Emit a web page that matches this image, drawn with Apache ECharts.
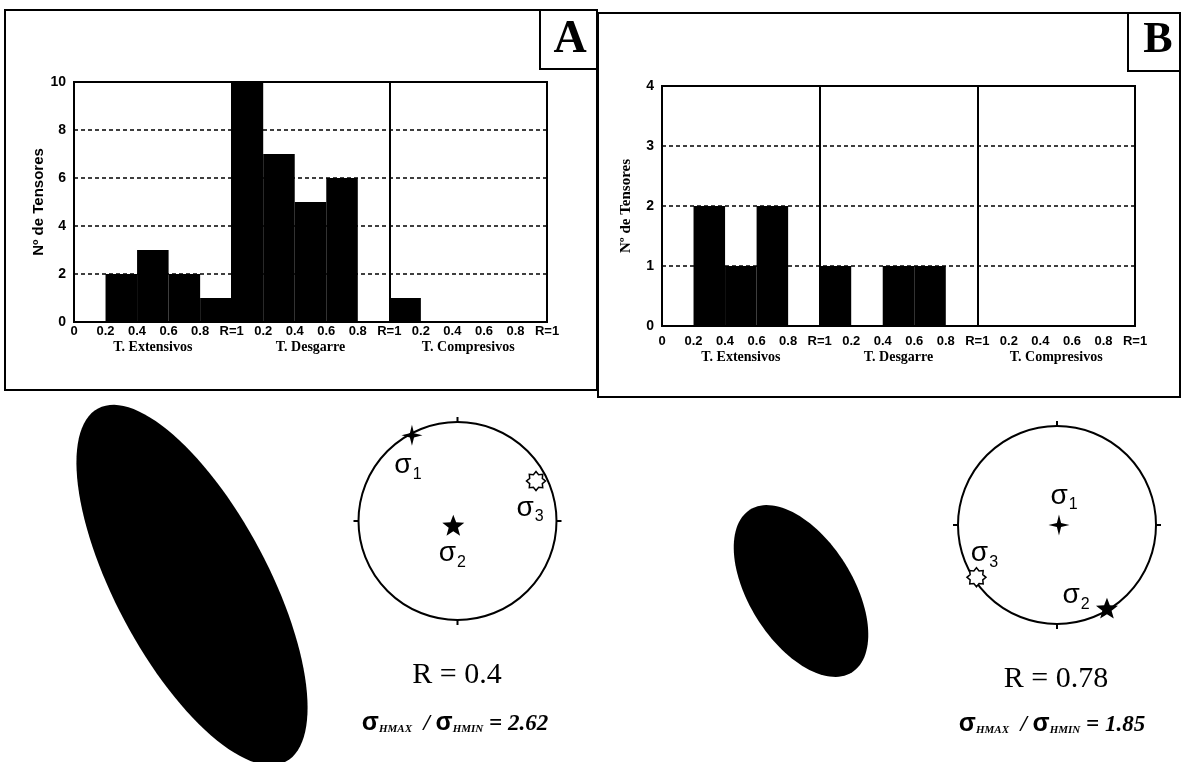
<!DOCTYPE html>
<html>
<head>
<meta charset="utf-8">
<script src="https://cdn.jsdelivr.net/npm/echarts@6/dist/echarts.min.js"></script>
<style>
html, body { margin: 0; padding: 0; background: #fff; }
#fig { width: 1183px; height: 762px; }
</style>
</head>
<body>
<div id="fig"></div>
<script>
// histogramas de R por tipo de tensor (clases de 0.2)
var grupos = ['T. Extensivos', 'T. Desgarre', 'T. Compresivos'];
var anchoClase = 0.2;
var tensoresA = [0, 2, 3, 2, 1, 10, 7, 5, 6, 0, 1, 0, 0, 0, 0];
var tensoresB = [0, 2, 1, 2, 0, 1, 0, 1, 1, 0, 0, 0, 0, 0, 0];

// ejes principales en la falsilla: trend (grados) y distancia al centro (0..1)
var sigmasA = ['1', '2', '3'];
var trendA = [332, 225, 63];
var radioA = [0.98, 0.06, 0.89];
var sigmasB = ['1', '2', '3'];
var trendB = [90, 149, 237];
var radioB = [0.02, 0.98, 0.97];

// elipse de esfuerzos horizontal
var valorR = ['0.4', '0.78'];
var razonSigma = [2.62, 1.85];
var azimutSHmax = [152, 148];
var semiejeMayor = [2.0, 0.96];

var fig = echarts.init(document.getElementById('fig'));

var sans = 'Liberation Sans';
var serif = 'Liberation Serif';

function etiquetaR(v) {
    var n = Math.round(v / anchoClase);
    if (n === 0) return '0';
    var k = n % 5;
    return k === 0 ? 'R=1' : (k * anchoClase).toFixed(1);
}

function datosHist(cuentas) {
    return cuentas.map(function (c, i) {
        return [i * anchoClase, (i + 1) * anchoClase, c];
    });
}

function barra(params, api) {
    var n = api.value(2);
    if (!n) return null;
    var p0 = api.coord([api.value(0), n]);
    var p1 = api.coord([api.value(1), 0]);
    return {
        type: 'rect',
        shape: { x: p0[0], y: p0[1], width: p1[0] - p0[0], height: p1[1] - p0[1] },
        style: { fill: '#000' }
    };
}

function elipse(params, api) {
    var a = api.value(0);
    var b = a / api.value(1);
    var th = api.value(2) * Math.PI / 180;
    var ux = Math.sin(th), uy = Math.cos(th);
    var pts = [];
    for (var k = 0; k < 120; k++) {
        var t = 2 * Math.PI * k / 120;
        var x = a * Math.cos(t) * ux + b * Math.sin(t) * uy;
        var y = a * Math.cos(t) * uy - b * Math.sin(t) * ux;
        pts.push(api.coord([x, y]));
    }
    return { type: 'polygon', shape: { points: pts }, style: { fill: '#000' } };
}

function estrella(puntas, rInt) {
    var d = '';
    for (var k = 0; k < puntas * 2; k++) {
        var r = k % 2 ? rInt : 10;
        var ang = Math.PI * k / puntas - Math.PI / 2;
        d += (k ? 'L' : 'M') + (r * Math.cos(ang)).toFixed(2) + ',' + (r * Math.sin(ang)).toFixed(2);
    }
    return 'path://' + d + 'Z';
}

var simbolos = {
    '1': { symbol: estrella(4, 2.8), size: 21, fill: '#000' },
    '2': { symbol: estrella(5, 4.2), size: 22, fill: '#000' },
    '3': { symbol: estrella(8, 7.2), size: 19, fill: '#fff' }
};

function datosFalsilla(sig, trend, radio, desplaz) {
    return sig.map(function (s, i) {
        var sb = simbolos[s];
        return {
            name: s,
            value: [radio[i], trend[i]],
            symbol: sb.symbol,
            symbolSize: sb.size,
            symbolKeepAspect: true,
            itemStyle: { color: sb.fill, opacity: 1, borderColor: '#000', borderWidth: s === '3' ? 1.5 : 0 },
            label: { offset: desplaz[i] }
        };
    });
}

var richSigma = {
    s: { fontFamily: sans, fontSize: 28, color: '#000', lineHeight: 30, verticalAlign: 'bottom' },
    d: { fontFamily: sans, fontSize: 16, color: '#000', verticalAlign: 'bottom', padding: [0, 0, -3, 1] }
};

function ejeX(grid, margen, margenGrupo) {
    return [{
        gridIndex: grid, type: 'value', min: 0, max: 3, interval: anchoClase,
        axisLine: { lineStyle: { color: '#000', width: 2 } },
        axisTick: { show: false },
        splitLine: { show: false },
        axisLabel: {
            margin: margen, color: '#000', fontFamily: sans, fontWeight: 'bold', fontSize: 13,
            showMinLabel: true, showMaxLabel: true, formatter: etiquetaR
        }
    }, {
        gridIndex: grid, type: 'category', position: 'bottom', data: grupos,
        axisLine: { show: false }, axisTick: { show: false }, splitLine: { show: false },
        axisLabel: { margin: margenGrupo, color: '#000', fontFamily: serif, fontWeight: 'bold', fontSize: 14 }
    }];
}

function ejeY(grid, max, intervalo, fuenteNombre) {
    return {
        gridIndex: grid, type: 'value', min: 0, max: max, interval: intervalo,
        name: 'Nº de Tensores', nameLocation: 'middle', nameGap: 28,
        nameTextStyle: { color: '#000', fontFamily: fuenteNombre, fontWeight: 'bold', fontSize: 15 },
        axisLine: { show: true, lineStyle: { color: '#000', width: 2 } },
        axisTick: { show: false },
        axisLabel: { margin: 8, color: '#000', fontFamily: sans, fontWeight: 'bold', fontSize: 14 },
        splitLine: { show: true, lineStyle: { color: '#000', width: 1.5, type: [4, 3] } }
    };
}

function ejeOcultoX(grid) {
    return { gridIndex: grid, type: 'value', min: -1.9, max: 1.9, show: false };
}

function ejeOcultoY(grid) {
    return { gridIndex: grid, type: 'value', min: -1.7, max: 1.8, show: false };
}

function divisiones() {
    return {
        silent: true, symbol: 'none', label: { show: false },
        lineStyle: { color: '#000', width: 2, type: 'solid' },
        data: [{ xAxis: 1 }, { xAxis: 2 }]
    };
}

function angulo(polar) {
    return {
        polarIndex: polar, type: 'value', min: 0, max: 360, interval: 90, startAngle: 90, clockwise: true,
        axisLine: { lineStyle: { color: '#000', width: 2 } },
        axisTick: { show: true, length: 5, lineStyle: { color: '#000', width: 2 } },
        axisLabel: { show: false }, splitLine: { show: false }, splitArea: { show: false }
    };
}

function radio(polar) {
    return {
        polarIndex: polar, type: 'value', min: 0, max: 1,
        axisLine: { show: false }, axisTick: { show: false }, axisLabel: { show: false },
        splitLine: { show: false }, splitArea: { show: false }
    };
}

function textoRazon(i, x, y) {
    return {
        type: 'text', x: x, y: y,
        style: {
            text: '{s|σ}{sub|HMAX}{t|  / }{s|σ}{sub|HMIN}{t| = ' + razonSigma[i].toFixed(2) + '}',
            align: 'center', verticalAlign: 'middle',
            rich: {
                s: { fontFamily: sans, fontWeight: 'bold', fontSize: 25, fill: '#000', lineHeight: 28, verticalAlign: 'bottom' },
                sub: { fontFamily: serif, fontWeight: 'bold', fontStyle: 'italic', fontSize: 11, fill: '#000', verticalAlign: 'bottom', padding: [0, 0, 1, 0] },
                t: { fontFamily: serif, fontWeight: 'bold', fontStyle: 'italic', fontSize: 23, fill: '#000', lineHeight: 28, verticalAlign: 'bottom' }
            }
        }
    };
}

function textoR(i, x, y) {
    return {
        type: 'text', x: x, y: y,
        style: {
            text: 'R = ' + valorR[i], align: 'center', verticalAlign: 'middle',
            font: '30px "Liberation Serif"', fill: '#000'
        }
    };
}

var option = {
    backgroundColor: '#fff',
    animation: false,
    grid: [
        { left: 74, top: 82, width: 473, height: 240, show: true, borderColor: '#000', borderWidth: 2, outerBoundsMode: 'none' },
        { left: 662, top: 86, width: 473, height: 240, show: true, borderColor: '#000', borderWidth: 2, outerBoundsMode: 'none' },
        { left: 2, top: 405, width: 380, height: 350, outerBoundsMode: 'none' },
        { left: 611, top: 411, width: 380, height: 350, outerBoundsMode: 'none' }
    ],
    xAxis: ejeX(0, 3, 18).concat(ejeX(1, 9, 24)).concat([ejeOcultoX(2), ejeOcultoX(3)]),
    yAxis: [ejeY(0, 10, 2, sans), ejeY(1, 4, 1, serif), ejeOcultoY(2), ejeOcultoY(3)],
    polar: [
        { center: [457.5, 521], radius: 99 },
        { center: [1057, 525], radius: 99 }
    ],
    angleAxis: [angulo(0), angulo(1)],
    radiusAxis: [radio(0), radio(1)],
    series: [
        {
            type: 'custom', xAxisIndex: 0, yAxisIndex: 0, renderItem: barra,
            encode: { x: [0, 1], y: 2 }, data: datosHist(tensoresA), markLine: divisiones()
        },
        {
            type: 'custom', xAxisIndex: 2, yAxisIndex: 1, renderItem: barra,
            encode: { x: [0, 1], y: 2 }, data: datosHist(tensoresB), markLine: divisiones()
        },
        {
            type: 'custom', xAxisIndex: 4, yAxisIndex: 2, renderItem: elipse,
            encode: { x: 0, y: 1 }, data: [[semiejeMayor[0], razonSigma[0], azimutSHmax[0]]]
        },
        {
            type: 'custom', xAxisIndex: 5, yAxisIndex: 3, renderItem: elipse,
            encode: { x: 0, y: 1 }, data: [[semiejeMayor[1], razonSigma[1], azimutSHmax[1]]]
        },
        {
            type: 'scatter', coordinateSystem: 'polar', polarIndex: 0, z: 5,
            label: { show: true, position: 'inside', color: '#000', formatter: function (p) { return '{s|σ}{d|' + p.name + '}'; }, rich: richSigma },
            data: datosFalsilla(sigmasA, trendA, radioA, [[-4, 29], [-1, 27], [-6, 26]])
        },
        {
            type: 'scatter', coordinateSystem: 'polar', polarIndex: 1, z: 5,
            label: { show: true, position: 'inside', color: '#000', formatter: function (p) { return '{s|σ}{d|' + p.name + '}'; }, rich: richSigma },
            data: datosFalsilla(sigmasB, trendB, radioB, [[5, -30], [-31, -14], [8, -25]])
        }
    ],
    graphic: [
        { type: 'rect', shape: { x: 5, y: 10, width: 592, height: 380 }, style: { fill: 'none', stroke: '#000', lineWidth: 2 } },
        { type: 'rect', shape: { x: 598, y: 13, width: 582, height: 384 }, style: { fill: 'none', stroke: '#000', lineWidth: 2 } },
        { type: 'rect', shape: { x: 540, y: 10, width: 57, height: 59 }, style: { fill: '#fff', stroke: '#000', lineWidth: 2 } },
        { type: 'rect', shape: { x: 1128, y: 13, width: 52, height: 58 }, style: { fill: '#fff', stroke: '#000', lineWidth: 2 } },
        { type: 'text', x: 570, y: 40, style: { text: 'A', align: 'center', verticalAlign: 'middle', font: 'bold 46px "Liberation Serif"', fill: '#000' } },
        { type: 'text', x: 1158, y: 41, style: { text: 'B', align: 'center', verticalAlign: 'middle', font: 'bold 44px "Liberation Serif"', fill: '#000' } },
        textoR(0, 457, 675),
        textoR(1, 1056, 679),
        textoRazon(0, 455, 722),
        textoRazon(1, 1052, 723)
    ]
};

fig.setOption(option);
</script>
</body>
</html>
